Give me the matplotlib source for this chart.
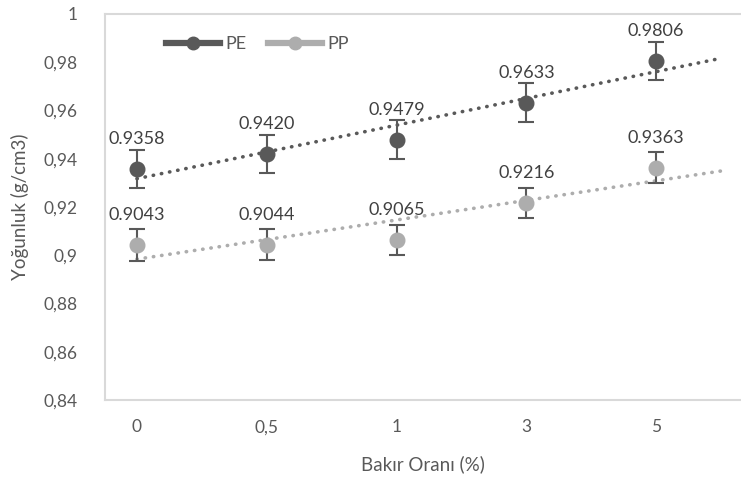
import numpy as np
import matplotlib
matplotlib.use("Agg")
from matplotlib import pyplot as plt
from matplotlib.lines import Line2D
from matplotlib.ticker import FuncFormatter, MultipleLocator

plt.rcParams['font.family'] = ['Lato', 'DejaVu Sans']

categories = ["0", "0,5", "1", "3", "5"]
pe_values = [0.9358, 0.9420, 0.9479, 0.9633, 0.9806]
pp_values = [0.9043, 0.9044, 0.9065, 0.9216, 0.9363]
pe_err = [0.008, 0.008, 0.008, 0.008, 0.008]
pp_err = [0.0065, 0.0065, 0.0062, 0.0063, 0.0063]

pe_color = "#595959"
pp_color = "#ADADAD"
text_color = "#595959"
axis_color = "#D9D9D9"

fig = plt.figure(figsize=(7.41, 4.78), dpi=100)
ax = fig.add_axes([105 / 741, 78 / 478, 635 / 741, 386 / 478])

x = np.arange(len(categories))

for vals, err, col in [(pe_values, pe_err, pe_color), (pp_values, pp_err, pp_color)]:
    # linear trendline like Excel (x = 1..n), forecast forward 0.5 period
    k, b = np.polyfit(x + 1, vals, 1)
    tx = np.array([0, len(x) - 0.5])
    ax.plot(tx, k * (tx + 1) + b, linestyle=(0, (0.1, 2.2)), dash_capstyle="round",
            color=col, linewidth=2.6, zorder=2)
    ax.errorbar(x, vals, yerr=err, fmt="none", ecolor=pe_color, elinewidth=1.5,
                capsize=5.5, capthick=1.5, zorder=3)
    ax.plot(x, vals, "o", color=col, markersize=10.5, zorder=4)
    for xi, v in zip(x, vals):
        ax.annotate("{:.4f}".format(v), (xi, v), xytext=(0, 21.5), textcoords="offset points",
                    ha="center", va="center", fontsize=13, color="#404040")

ax.set_xlim(-32 / 130, 4 + 84 / 130)
ax.set_ylim(0.84, 1.0)
ax.yaxis.set_major_locator(MultipleLocator(0.02))
ax.yaxis.set_major_formatter(FuncFormatter(lambda v, p: "{:g}".format(round(v, 2)).replace(".", ",")))
ax.set_xticks(x)
ax.set_xticklabels(categories)
ax.tick_params(axis="both", length=0, labelsize=12.5, colors=text_color)
ax.tick_params(axis="x", pad=14)
ax.tick_params(axis="y", pad=20)

for s in ["left", "bottom", "top"]:
    ax.spines[s].set_color(axis_color)
    ax.spines[s].set_linewidth(1.5)
ax.spines["right"].set_visible(False)

ax.set_xlabel("Bakır Oranı (%)", fontsize=13.5, color=text_color, labelpad=14)
ax.set_ylabel("Yoğunluk (g/cm3)", fontsize=13.5, color=text_color, labelpad=10)

handles = [Line2D([], [], color=pe_color, linewidth=4.5, marker="o", markersize=9),
           Line2D([], [], color=pp_color, linewidth=4.5, marker="o", markersize=9)]
ax.legend(handles, ["PE", "PP"], ncol=2, frameon=False, loc="upper left",
          bbox_to_anchor=(0.07, 0.985), handlelength=3.0, handletextpad=0.3,
          columnspacing=1.2, fontsize=13, labelcolor=text_color)

plt.savefig("out.png", dpi=100)
plt.close()
